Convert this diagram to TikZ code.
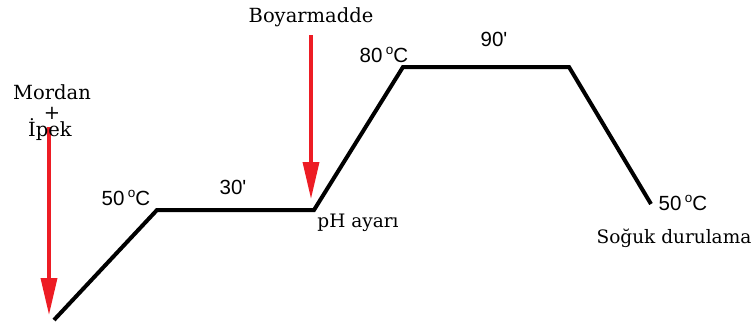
\documentclass[tikz,border=0pt]{standalone}
\usepackage{fontspec}
\setmainfont{DejaVu Serif}
\newfontfamily\numfont{Liberation Sans}
\usetikzlibrary{arrows.meta}
\newcommand{\degC}{\,\raisebox{0.75ex}{\fontsize{13.5}{13.5}\selectfont o}C}
\begin{document}
\begin{tikzpicture}[x=1pt,y=-1pt,
  curve/.style={line width=4pt,line join=miter},
  redarrow/.style={draw={rgb,255:red,237;green,28;blue,36},line width=3.5pt,-{Triangle[length=37pt,width=16pt]}},
  lbl/.style={font=\fontsize{19.5}{22}\selectfont,inner sep=0pt},
  num/.style={font=\numfont\fontsize{20.5}{23}\selectfont,inner sep=0pt},
  small/.style={font=\fontsize{18.5}{21}\selectfont,inner sep=0pt}]
\useasboundingbox (0,0) rectangle (753,327);
\coordinate (p0) at (54,320);
\coordinate (p1) at (157,210);
\coordinate (p2) at (314,210);
\coordinate (p3) at (403,67);
\coordinate (p4) at (569,67);
\coordinate (p5) at (651,204);
\draw[curve] (p0) -- (p1) -- (p2) -- (p3) -- (p4) -- (p5);
\coordinate (a1s) at (49,127);
\coordinate (a1e) at (49,315);
\coordinate (a2s) at (311,35);
\coordinate (a2e) at (311,199);
\draw[redarrow] (a1s) -- (a1e);
\draw[redarrow] (a2s) -- (a2e);
\node[lbl] (mordan) at (52,92) {Mordan};
\node[lbl] (plus) at (52,113) {+};
\node[lbl] (ipek) at (50,130) {İpek};
\node[lbl] (boyar) at (311,17) {Boyarmadde};
\node[num] (t50a) at (126,198) {50\degC};
\node[num] (t30) at (233,187) {30'};
\node[num] (t80) at (384,55) {80\degC};
\node[num] (t90) at (494,39) {90'};
\node[small] (ph) at (358,223) {pH ayarı};
\node[num] (t50b) at (683,203) {50\degC};
\node[small] (sog) at (674,238) {Soğuk durulama};
\end{tikzpicture}
\end{document}
